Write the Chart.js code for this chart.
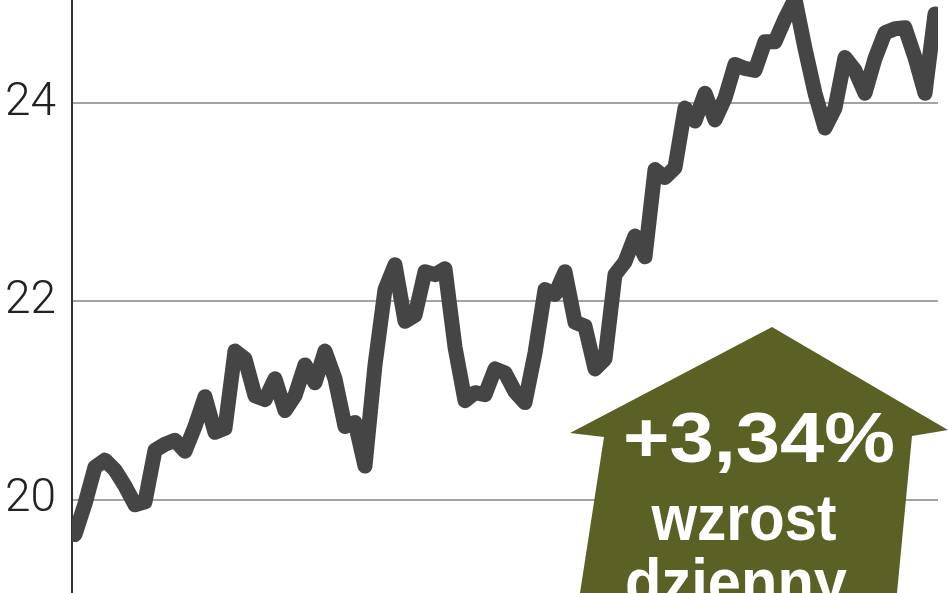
<!DOCTYPE html>
<html>
<head>
<meta charset="utf-8">
<script src="https://cdn.jsdelivr.net/npm/chart.js@4/dist/chart.umd.min.js"></script>
<style>
  html, body { margin: 0; padding: 0; background: #fff; }
  #wrap { width: 948px; height: 593px; position: relative; }
</style>
</head>
<body>
<div id="wrap"><canvas id="kurs"></canvas></div>
<script>
// notowania dzienne (zł)
const closes = [
  19.65, 19.96, 20.33, 20.40, 20.30, 20.14, 19.95, 19.98, 20.50, 20.56,
  20.60, 20.49, 20.74, 21.04, 20.68, 20.72, 21.50, 21.42, 21.05, 21.01,
  21.22, 20.90, 21.05, 21.36, 21.18, 21.50, 21.22, 20.74, 20.78, 20.34,
  21.36, 22.12, 22.37, 21.80, 21.86, 22.30, 22.27, 22.33, 21.54, 21.00,
  21.08, 21.06, 21.32, 21.28, 21.09, 20.98, 21.48, 22.12, 22.07, 22.30,
  21.79, 21.75, 21.32, 21.42, 22.27, 22.40, 22.66, 22.45, 23.33, 23.25,
  23.35, 23.95, 23.82, 24.10, 23.83, 24.05, 24.39, 24.35, 24.33, 24.62,
  24.62, 24.85, 25.05, 24.55, 24.10, 23.75, 23.95, 24.46, 24.33, 24.10,
  24.45, 24.71, 24.75, 24.76, 24.46, 24.10, 24.90
];
const yTicks = [20, 22, 24];
const badgeLines = ['+3,34%', 'wzrost', 'dzienny'];

// zielona strzałka z opisem zmiany
const arrowBadge = {
  id: 'arrowBadge',
  afterDatasetsDraw(chart) {
    const ctx = chart.ctx;
    ctx.save();
    ctx.fillStyle = '#5b6024';
    ctx.beginPath();
    ctx.moveTo(772, 327);
    ctx.lineTo(948, 430);
    ctx.lineTo(912, 436);
    ctx.lineTo(897, 593);
    ctx.lineTo(580, 593);
    ctx.lineTo(604, 437);
    ctx.lineTo(570, 433);
    ctx.closePath();
    ctx.fill();

    const fitted = (text, cx, base, size, width) => {
      ctx.font = `bold ${size}px "Liberation Sans", Arial, sans-serif`;
      const w = ctx.measureText(text).width;
      ctx.save();
      ctx.translate(cx, base);
      ctx.scale(width / w, 1);
      ctx.textAlign = 'center';
      ctx.textBaseline = 'alphabetic';
      ctx.fillStyle = '#ffffff';
      ctx.fillText(text, 0, 0);
      ctx.restore();
    };
    fitted(badgeLines[0], 759, 462, 70, 272);
    fitted(badgeLines[1], 744, 540, 64, 185);
    fitted(badgeLines[2], 736, 604, 64, 222);
    ctx.restore();
  }
};

new Chart(document.getElementById('kurs'), {
  type: 'line',
  data: {
    datasets: [{
      data: closes.map((v, i) => ({ x: i, y: v })),
      borderColor: '#454545',
      borderWidth: 15,
      borderJoinStyle: 'round',
      borderCapStyle: 'round',
      pointRadius: 0,
      tension: 0
    }]
  },
  options: {
    responsive: true,
    maintainAspectRatio: false,
    animation: false,
    layout: { padding: { top: 0, right: 10, bottom: 0, left: 0 } },
    plugins: { legend: { display: false }, tooltip: { enabled: false } },
    scales: {
      x: {
        type: 'linear',
        min: -0.3,
        max: closes.length - 1 + 0.3,
        display: false
      },
      y: {
        min: 19.06,
        max: 25.04,
        afterBuildTicks: (scale) => {
          scale.ticks = yTicks.map(v => ({ value: v }));
        },
        afterFit: (scale) => {
          scale.width = 72;
          scale.paddingTop = 0;
          scale.paddingBottom = 0;
        },
        border: { display: true, color: '#333333', width: 2 },
        grid: { color: '#a3a3a3', lineWidth: 2, drawTicks: false },
        ticks: {
          padding: 16,
          color: '#222222',
          font: { family: 'Roboto, "DejaVu Sans", sans-serif', size: 46, weight: 300 }
        }
      }
    }
  },
  plugins: [arrowBadge]
});
</script>
</body>
</html>
